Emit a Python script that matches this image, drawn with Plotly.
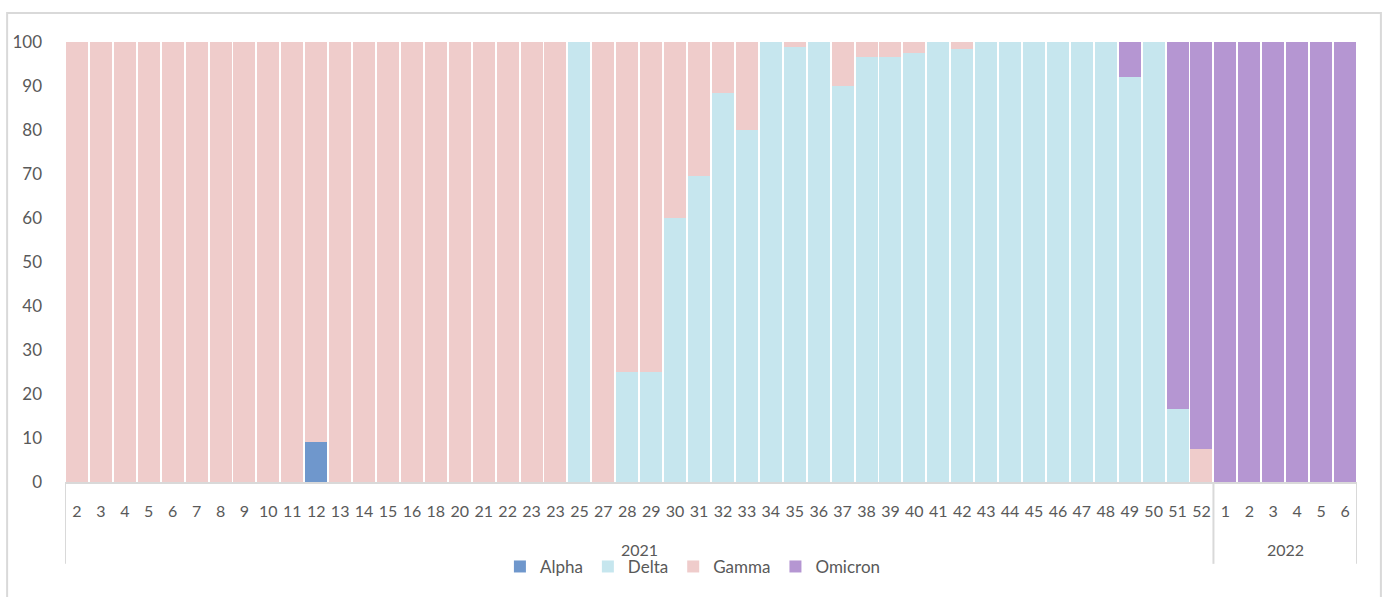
import plotly.graph_objects as go

year_labels = ["2021", "2022"]
weeks_2021 = ["2", "3", "4", "5", "6", "7", "8", "9", "10", "11", "12", "13", "14", "15", "16",
              "18", "20", "21", "22", "23", "23", "25", "27", "28", "29", "30", "31", "32",
              "33", "34", "35", "36", "37", "38", "39", "40", "41", "42", "43", "44", "45", "46",
              "47", "48", "49", "50", "51", "52"]
weeks_2022 = ["1", "2", "3", "4", "5", "6"]

alpha = [0] * 10 + [9] + [0] * 43
delta = ([0] * 21 + [100, 0, 25, 25, 60, 69.5, 88.5, 80, 100, 98.9, 100, 90, 96.5, 96.7, 97.4,
                    100, 98.4, 100, 100, 100, 100, 100, 100, 92.1, 100, 16.6, 0] + [0] * 6)
gamma = ([100] * 10 + [91] + [100] * 10 + [0, 100, 75, 75, 40, 30.5, 11.5, 20, 0, 1.1, 0, 10,
                                           3.5, 3.3, 2.6, 0, 1.6, 0, 0, 0, 0, 0, 0, 0, 0, 0, 7.5] + [0] * 6)
omicron = [0] * 44 + [7.9, 0, 83.4, 92.5] + [100] * 6

names = ["Alpha", "Delta", "Gamma", "Omicron"]
colors = ["#6F97CC", "#C6E6EE", "#EFCCCB", "#B596D2"]
series = [alpha, delta, gamma, omicron]

weeks = weeks_2021 + weeks_2022
groups = [weeks_2021, weeks_2022]
pos = list(range(len(weeks)))

font_family = "Lato, 'Open Sans', sans-serif"
fig = go.Figure()
for name, vals, col in zip(names, series, colors):
    fig.add_trace(go.Bar(x=pos, y=vals, name=name,
                         marker=dict(color=col, line=dict(width=0))))

# year group labels and dividers under the week labels
annotations = []
shapes = []
start = 0
bounds = [-0.5]
for label, grp in zip(year_labels, groups):
    end = start + len(grp)
    annotations.append(dict(x=(start + end - 1) / 2, y=-0.154, xref="x", yref="paper",
                            text=label, showarrow=False, yanchor="middle",
                            font=dict(size=16, color="#595959")))
    bounds.append(end - 0.5)
    start = end
for b in bounds:
    shapes.append(dict(type="line", xref="x", yref="paper", x0=b, x1=b, y0=0, y1=-0.186,
                       line=dict(color="#D9D9D9", width=2)))
shapes.append(dict(type="rect", xref="paper", yref="paper", x0=-0.0448, x1=1.0185,
                   y0=-0.3, y1=1.0658, line=dict(color="#D9D9D9", width=2),
                   fillcolor="rgba(0,0,0,0)", layer="below"))

fig.update_layout(
    barmode="stack",
    bargap=0.08,
    width=1385, height=597,
    margin=dict(l=63, r=28, t=42, b=114),
    paper_bgcolor="white", plot_bgcolor="white",
    font=dict(family=font_family, size=16, color="#595959"),
    showlegend=True,
    legend=dict(orientation="h", x=0.486, xanchor="center", y=-0.193, yanchor="middle",
                font=dict(size=17, color="#595959"), traceorder="normal",
                itemwidth=30, tracegroupgap=0, bgcolor="rgba(0,0,0,0)"),
    xaxis=dict(range=[-0.5, len(weeks) - 0.5], tickmode="array", tickvals=pos, ticktext=weeks,
               showline=True, linecolor="#D9D9D9", linewidth=2, zeroline=False,
               ticks="", tickangle=0, tickfont=dict(size=16, color="#595959"),
               ticklabelstandoff=14, showgrid=False, fixedrange=True),
    yaxis=dict(range=[0, 100], dtick=10, showgrid=False, showline=False, zeroline=False,
               tickfont=dict(size=17, color="#595959"), ticks="", ticklabelstandoff=22,
               fixedrange=True),
    annotations=annotations,
    shapes=shapes,
)

fig.write_html("out.html", config={"displayModeBar": False},
               post_script="document.body.style.margin='0';")
